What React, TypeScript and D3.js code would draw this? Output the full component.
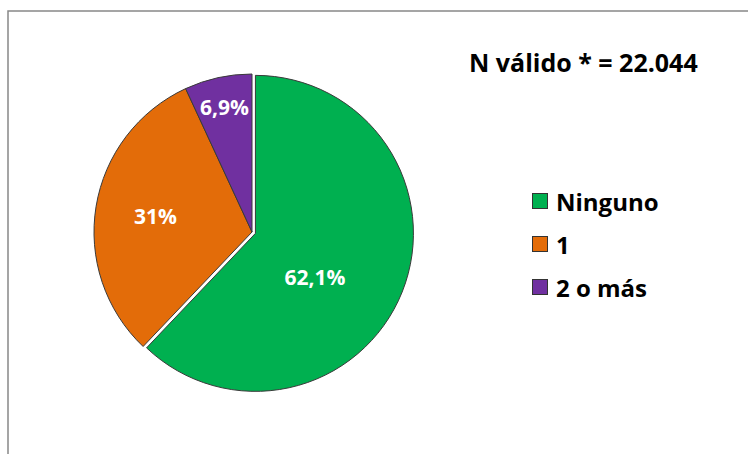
import React from "react";
import * as d3 from "d3";

const categories = ["Ninguno", "1", "2 o más"];
const values = [62.1, 31, 6.9];
const valueLabels = ["62,1%", "31%", "6,9%"];
const colors = ["#00B050", "#E36C09", "#7030A0"];
const title = "N válido * = 22.044";

const W = 748;
const H = 454;
const cx = 252;
const cy = 232;
const R = 158;
const explode = [3.7, 0, 0];
const labelRadius = [0.49, 0.62, 0.81];
const labelShift = [0.24, 0, 0];
const FONT = "'Open Sans', sans-serif";

export default function App() {
  const pie = d3
    .pie<number>()
    .sort(null)
    .value((d) => d)
    .startAngle(0)
    .endAngle(2 * Math.PI);
  const arcs = pie(values);
  const arc = d3.arc<d3.PieArcDatum<number>>().innerRadius(0).outerRadius(R);

  const legendY = d3.scalePoint<string>().domain(categories).range([201, 287]);

  return (
    <svg
      width={W}
      height={H}
      style={{ position: "absolute", left: 0, top: 0, background: "#fff" }}
      fontFamily={FONT}
    >
      <rect x={8} y={11} width={W + 20} height={H + 20} fill="#fff" stroke="#888" strokeWidth={1.5} />
      <g transform={`translate(${cx},${cy})`}>
        {arcs.map((a, i) => {
          const mid = (a.startAngle + a.endAngle) / 2;
          const dx = Math.sin(mid) * explode[i];
          const dy = -Math.cos(mid) * explode[i];
          return (
            <path
              key={i}
              d={arc(a) || ""}
              transform={`translate(${dx},${dy})`}
              fill={colors[i]}
              stroke="#3a3a3a"
              strokeWidth={1}
              strokeLinejoin="round"
            />
          );
        })}
        {arcs.map((a, i) => {
          const mid = (a.startAngle + a.endAngle) / 2 + labelShift[i];
          const la = d3
            .arc<any>()
            .innerRadius(R * labelRadius[i])
            .outerRadius(R * labelRadius[i]);
          const [x, y] = la.centroid({ startAngle: mid, endAngle: mid } as any);
          return (
            <text
              key={"l" + i}
              x={x}
              y={y}
              textAnchor="middle"
              dominantBaseline="central"
              fill="#fff"
              fontWeight={700}
              fontSize={21}
            >
              {valueLabels[i]}
            </text>
          );
        })}
      </g>
      <text x={469} y={72} fontSize={25} fontWeight={700} fill="#000">
        {title}
      </text>
      {categories.map((c, i) => {
        const y = legendY(c)!;
        return (
          <g key={c}>
            <rect x={532.5} y={y - 7.5} width={15} height={15} fill={colors[i]} stroke="#333" strokeWidth={1} />
            <text x={556} y={y} dominantBaseline="central" fontSize={24} fontWeight={700} fill="#000">
              {c}
            </text>
          </g>
        );
      })}
    </svg>
  );
}
